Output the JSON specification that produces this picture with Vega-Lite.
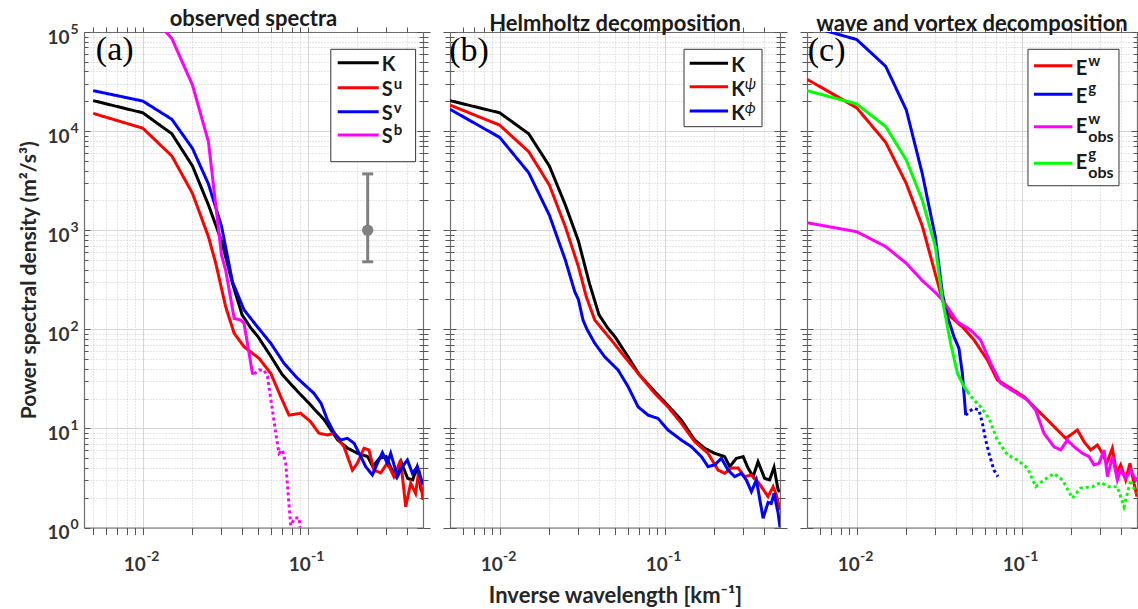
{
"padding":{"left":18,"top":8,"right":0,"bottom":0},
"background":"white",
"config":{"font":"Lato","view":{"stroke":null},"title":{"font":"Lato","fontWeight":"bold"},
 "axis":{"labelFont":"Lato","titleFont":"Lato","labelFontWeight":"bold","labelColor":"#333333","grid":false,"domain":false,"ticks":false,"labels":false,"tickColor":"#555555","tickWidth":1,"gridColor":"#d6d6d6","gridWidth":1,"domainColor":"#6e6e6e","domainWidth":1.2}},
"resolve":{"scale":{"color":"independent","strokeDash":"independent","x":"independent","y":"independent"}},
"bounds":"flush",
"spacing":27,
"datasets":{
"a":[
{"s":"K","k":0.005,"v":20300,"d":"solid"},{"s":"K","k":0.01,"v":15300,"d":"solid"},{"s":"K","k":0.015,"v":9400,"d":"solid"},{"s":"K","k":0.02,"v":4450,"d":"solid"},{"s":"K","k":0.025,"v":1800,"d":"solid"},{"s":"K","k":0.03,"v":780,"d":"solid"},{"s":"K","k":0.035,"v":290,"d":"solid"},{"s":"K","k":0.04,"v":140,"d":"solid"},{"s":"K","k":0.045,"v":104,"d":"solid"},{"s":"K","k":0.05,"v":84,"d":"solid"},{"s":"K","k":0.06,"v":52.8,"d":"solid"},{"s":"K","k":0.07,"v":35,"d":"solid"},{"s":"K","k":0.087,"v":23.5,"d":"solid"},{"s":"K","k":0.1,"v":18.5,"d":"solid"},{"s":"K","k":0.126,"v":12.2,"d":"solid"},{"s":"K","k":0.152,"v":7.64,"d":"solid"},{"s":"K","k":0.175,"v":6.3,"d":"solid"},{"s":"K","k":0.201,"v":5.6,"d":"solid"},{"s":"K","k":0.231,"v":5.19,"d":"solid"},{"s":"K","k":0.248,"v":4.11,"d":"solid"},{"s":"K","k":0.272,"v":4.99,"d":"solid"},{"s":"K","k":0.299,"v":5.19,"d":"solid"},{"s":"K","k":0.32,"v":3.98,"d":"solid"},{"s":"K","k":0.3435,"v":3.26,"d":"solid"},{"s":"K","k":0.368,"v":4.61,"d":"solid"},{"s":"K","k":0.4036,"v":3.13,"d":"solid"},{"s":"K","k":0.4326,"v":3.02,"d":"solid"},{"s":"K","k":0.46,"v":4.05,"d":"solid"},{"s":"K","k":0.487,"v":2.39,"d":"solid"},{"s":"K","k":0.5,"v":2.3,"d":"solid"},
{"s":"Su","k":0.005,"v":15100,"d":"solid"},{"s":"Su","k":0.01,"v":10700,"d":"solid"},{"s":"Su","k":0.015,"v":5610,"d":"solid"},{"s":"Su","k":0.02,"v":2355,"d":"solid"},{"s":"Su","k":0.025,"v":859,"d":"solid"},{"s":"Su","k":0.0277,"v":463,"d":"solid"},{"s":"Su","k":0.0318,"v":169,"d":"solid"},{"s":"Su","k":0.0358,"v":91.2,"d":"solid"},{"s":"Su","k":0.0411,"v":66.7,"d":"solid"},{"s":"Su","k":0.0507,"v":50.9,"d":"solid"},{"s":"Su","k":0.0597,"v":35.9,"d":"solid"},{"s":"Su","k":0.0686,"v":20.9,"d":"solid"},{"s":"Su","k":0.077,"v":13.6,"d":"solid"},{"s":"Su","k":0.0907,"v":14.2,"d":"solid"},{"s":"Su","k":0.104,"v":11.7,"d":"solid"},{"s":"Su","k":0.117,"v":8.93,"d":"solid"},{"s":"Su","k":0.1316,"v":8.58,"d":"solid"},{"s":"Su","k":0.145,"v":8.93,"d":"solid"},{"s":"Su","k":0.166,"v":6.53,"d":"solid"},{"s":"Su","k":0.1866,"v":3.8,"d":"solid"},{"s":"Su","k":0.2,"v":4.44,"d":"solid"},{"s":"Su","k":0.2194,"v":6.3,"d":"solid"},{"s":"Su","k":0.235,"v":6.06,"d":"solid"},{"s":"Su","k":0.2523,"v":3.8,"d":"solid"},{"s":"Su","k":0.277,"v":3.55,"d":"solid"},{"s":"Su","k":0.304,"v":4.48,"d":"solid"},{"s":"Su","k":0.333,"v":3.26,"d":"solid"},{"s":"Su","k":0.366,"v":4.8,"d":"solid"},{"s":"Su","k":0.3927,"v":1.62,"d":"solid"},{"s":"Su","k":0.421,"v":2.79,"d":"solid"},{"s":"Su","k":0.451,"v":2.21,"d":"solid"},{"s":"Su","k":0.4725,"v":3.8,"d":"solid"},{"s":"Su","k":0.5,"v":1.9,"d":"solid"},
{"s":"Sv","k":0.005,"v":25600,"d":"solid"},{"s":"Sv","k":0.01,"v":20100,"d":"solid"},{"s":"Sv","k":0.015,"v":13150,"d":"solid"},{"s":"Sv","k":0.02,"v":6700,"d":"solid"},{"s":"Sv","k":0.025,"v":2925,"d":"solid"},{"s":"Sv","k":0.03,"v":1100,"d":"solid"},{"s":"Sv","k":0.035,"v":300,"d":"solid"},{"s":"Sv","k":0.0411,"v":157,"d":"solid"},{"s":"Sv","k":0.0495,"v":106,"d":"solid"},{"s":"Sv","k":0.0597,"v":72.3,"d":"solid"},{"s":"Sv","k":0.0718,"v":45.4,"d":"solid"},{"s":"Sv","k":0.0866,"v":32.1,"d":"solid"},{"s":"Sv","k":0.109,"v":22.6,"d":"solid"},{"s":"Sv","k":0.1205,"v":17.9,"d":"solid"},{"s":"Sv","k":0.1316,"v":12.2,"d":"solid"},{"s":"Sv","k":0.145,"v":8.93,"d":"solid"},{"s":"Sv","k":0.1585,"v":7.64,"d":"solid"},{"s":"Sv","k":0.174,"v":7.94,"d":"solid"},{"s":"Sv","k":0.191,"v":7.08,"d":"solid"},{"s":"Sv","k":0.21,"v":5.19,"d":"solid"},{"s":"Sv","k":0.2246,"v":4.11,"d":"solid"},{"s":"Sv","k":0.2466,"v":3.39,"d":"solid"},{"s":"Sv","k":0.2645,"v":4.44,"d":"solid"},{"s":"Sv","k":0.2836,"v":5.69,"d":"solid"},{"s":"Sv","k":0.304,"v":4.44,"d":"solid"},{"s":"Sv","k":0.3185,"v":5.61,"d":"solid"},{"s":"Sv","k":0.3497,"v":3.26,"d":"solid"},{"s":"Sv","k":0.375,"v":4.11,"d":"solid"},{"s":"Sv","k":0.402,"v":4.8,"d":"solid"},{"s":"Sv","k":0.431,"v":3.52,"d":"solid"},{"s":"Sv","k":0.462,"v":4.11,"d":"solid"},{"s":"Sv","k":0.5,"v":2.7,"d":"solid"},
{"s":"Sb","k":0.01,"v":180000,"d":"solid"},{"s":"Sb","k":0.015,"v":86000,"d":"solid"},{"s":"Sb","k":0.02,"v":29200,"d":"solid"},{"s":"Sb","k":0.025,"v":7800,"d":"solid"},{"s":"Sb","k":0.03,"v":560,"d":"solid"},{"s":"Sb","k":0.0318,"v":396,"d":"solid"},{"s":"Sb","k":0.0358,"v":129,"d":"solid"},{"s":"Sb","k":0.0393,"v":124,"d":"solid"},{"s":"Sb","k":0.0411,"v":115,"d":"solid"},{"s":"Sb","k":0.0441,"v":57.3,"d":"solid"},{"s":"Sb","k":0.0462,"v":36,"d":"solid"},{"s":"Sb","k":0.0473,"v":35.5,"d":"solid"},
{"s":"Sb","k":0.0473,"v":35.5,"d":"dotted"},{"s":"Sb","k":0.0507,"v":38.8,"d":"dotted"},{"s":"Sb","k":0.0543,"v":38.8,"d":"dotted"},{"s":"Sb","k":0.057,"v":33.3,"d":"dotted"},{"s":"Sb","k":0.0611,"v":15.3,"d":"dotted"},{"s":"Sb","k":0.064,"v":8.9,"d":"dotted"},{"s":"Sb","k":0.067,"v":5.6,"d":"dotted"},{"s":"Sb","k":0.0702,"v":6.06,"d":"dotted"},{"s":"Sb","k":0.0736,"v":4.44,"d":"dotted"},{"s":"Sb","k":0.076,"v":2.21,"d":"dotted"},{"s":"Sb","k":0.0789,"v":1.05,"d":"dotted"},{"s":"Sb","k":0.0836,"v":1.25,"d":"dotted"},{"s":"Sb","k":0.0886,"v":1.25,"d":"dotted"},{"s":"Sb","k":0.092,"v":0.7,"d":"dotted"}
],
"b":[
{"s":"K","k":0.005,"v":20300,"d":"solid"},{"s":"K","k":0.01,"v":15300,"d":"solid"},{"s":"K","k":0.015,"v":9400,"d":"solid"},{"s":"K","k":0.02,"v":4450,"d":"solid"},{"s":"K","k":0.025,"v":1800,"d":"solid"},{"s":"K","k":0.03,"v":780,"d":"solid"},{"s":"K","k":0.035,"v":290,"d":"solid"},{"s":"K","k":0.04,"v":140,"d":"solid"},{"s":"K","k":0.045,"v":104,"d":"solid"},{"s":"K","k":0.05,"v":84,"d":"solid"},{"s":"K","k":0.06,"v":52.8,"d":"solid"},{"s":"K","k":0.07,"v":35,"d":"solid"},{"s":"K","k":0.087,"v":23.5,"d":"solid"},{"s":"K","k":0.1,"v":18.5,"d":"solid"},{"s":"K","k":0.126,"v":12.2,"d":"solid"},{"s":"K","k":0.152,"v":7.64,"d":"solid"},{"s":"K","k":0.175,"v":6.3,"d":"solid"},{"s":"K","k":0.201,"v":5.6,"d":"solid"},{"s":"K","k":0.231,"v":5.19,"d":"solid"},{"s":"K","k":0.248,"v":4.11,"d":"solid"},{"s":"K","k":0.272,"v":4.99,"d":"solid"},{"s":"K","k":0.299,"v":5.19,"d":"solid"},{"s":"K","k":0.32,"v":3.98,"d":"solid"},{"s":"K","k":0.3435,"v":3.26,"d":"solid"},{"s":"K","k":0.368,"v":4.61,"d":"solid"},{"s":"K","k":0.4036,"v":3.13,"d":"solid"},{"s":"K","k":0.4326,"v":3.02,"d":"solid"},{"s":"K","k":0.46,"v":4.05,"d":"solid"},{"s":"K","k":0.487,"v":2.39,"d":"solid"},{"s":"K","k":0.5,"v":2.3,"d":"solid"},
{"s":"Kpsi","k":0.005,"v":18300,"d":"solid"},{"s":"Kpsi","k":0.01,"v":11500,"d":"solid"},{"s":"Kpsi","k":0.015,"v":6200,"d":"solid"},{"s":"Kpsi","k":0.02,"v":2860,"d":"solid"},{"s":"Kpsi","k":0.025,"v":1085,"d":"solid"},{"s":"Kpsi","k":0.03,"v":430,"d":"solid"},{"s":"Kpsi","k":0.0335,"v":213,"d":"solid"},{"s":"Kpsi","k":0.0377,"v":124,"d":"solid"},{"s":"Kpsi","k":0.0423,"v":98.4,"d":"solid"},{"s":"Kpsi","k":0.0475,"v":78,"d":"solid"},{"s":"Kpsi","k":0.0572,"v":52.8,"d":"solid"},{"s":"Kpsi","k":0.069,"v":36,"d":"solid"},{"s":"Kpsi","k":0.087,"v":22.6,"d":"solid"},{"s":"Kpsi","k":0.1047,"v":16.5,"d":"solid"},{"s":"Kpsi","k":0.126,"v":11.3,"d":"solid"},{"s":"Kpsi","k":0.152,"v":7.35,"d":"solid"},{"s":"Kpsi","k":0.1832,"v":5.6,"d":"solid"},{"s":"Kpsi","k":0.2107,"v":3.8,"d":"solid"},{"s":"Kpsi","k":0.231,"v":3.52,"d":"solid"},{"s":"Kpsi","k":0.2536,"v":3.98,"d":"solid"},{"s":"Kpsi","k":0.2786,"v":3.98,"d":"solid"},{"s":"Kpsi","k":0.3053,"v":3.26,"d":"solid"},{"s":"Kpsi","k":0.3354,"v":3.39,"d":"solid"},{"s":"Kpsi","k":0.3595,"v":3.02,"d":"solid"},{"s":"Kpsi","k":0.3855,"v":2.58,"d":"solid"},{"s":"Kpsi","k":0.4234,"v":2.05,"d":"solid"},{"s":"Kpsi","k":0.454,"v":2.58,"d":"solid"},{"s":"Kpsi","k":0.4753,"v":2.13,"d":"solid"},{"s":"Kpsi","k":0.5,"v":1.5,"d":"solid"},
{"s":"Kphi","k":0.005,"v":16600,"d":"solid"},{"s":"Kphi","k":0.01,"v":8650,"d":"solid"},{"s":"Kphi","k":0.015,"v":3800,"d":"solid"},{"s":"Kphi","k":0.02,"v":1420,"d":"solid"},{"s":"Kphi","k":0.025,"v":500,"d":"solid"},{"s":"Kphi","k":0.0285,"v":240,"d":"solid"},{"s":"Kphi","k":0.03,"v":200,"d":"solid"},{"s":"Kphi","k":0.032,"v":124,"d":"solid"},{"s":"Kphi","k":0.0338,"v":100,"d":"solid"},{"s":"Kphi","k":0.0377,"v":72.3,"d":"solid"},{"s":"Kphi","k":0.0433,"v":52.8,"d":"solid"},{"s":"Kphi","k":0.0522,"v":38.8,"d":"solid"},{"s":"Kphi","k":0.06,"v":26.4,"d":"solid"},{"s":"Kphi","k":0.069,"v":16.5,"d":"solid"},{"s":"Kphi","k":0.0794,"v":13.6,"d":"solid"},{"s":"Kphi","k":0.0912,"v":12.6,"d":"solid"},{"s":"Kphi","k":0.1047,"v":9.64,"d":"solid"},{"s":"Kphi","k":0.126,"v":7.64,"d":"solid"},{"s":"Kphi","k":0.1452,"v":6.53,"d":"solid"},{"s":"Kphi","k":0.167,"v":5.19,"d":"solid"},{"s":"Kphi","k":0.1832,"v":4.11,"d":"solid"},{"s":"Kphi","k":0.201,"v":4.28,"d":"solid"},{"s":"Kphi","k":0.2207,"v":4.99,"d":"solid"},{"s":"Kphi","k":0.2422,"v":3.8,"d":"solid"},{"s":"Kphi","k":0.2656,"v":3.26,"d":"solid"},{"s":"Kphi","k":0.2916,"v":3.52,"d":"solid"},{"s":"Kphi","k":0.3126,"v":3.02,"d":"solid"},{"s":"Kphi","k":0.3354,"v":2.3,"d":"solid"},{"s":"Kphi","k":0.3595,"v":3.02,"d":"solid"},{"s":"Kphi","k":0.395,"v":1.24,"d":"solid"},{"s":"Kphi","k":0.4234,"v":1.79,"d":"solid"},{"s":"Kphi","k":0.443,"v":1.75,"d":"solid"},{"s":"Kphi","k":0.46,"v":2.21,"d":"solid"},{"s":"Kphi","k":0.487,"v":1.4,"d":"solid"},{"s":"Kphi","k":0.5,"v":1.0,"d":"solid"}
],
"c":[
{"s":"Ew","k":0.005,"v":33400,"d":"solid"},{"s":"Ew","k":0.01,"v":17200,"d":"solid"},{"s":"Ew","k":0.015,"v":7700,"d":"solid"},{"s":"Ew","k":0.02,"v":2950,"d":"solid"},{"s":"Ew","k":0.025,"v":1100,"d":"solid"},{"s":"Ew","k":0.03,"v":360,"d":"solid"},{"s":"Ew","k":0.0331,"v":198,"d":"solid"},{"s":"Ew","k":0.0371,"v":134,"d":"solid"},{"s":"Ew","k":0.0447,"v":102,"d":"solid"},{"s":"Ew","k":0.0514,"v":78,"d":"solid"},{"s":"Ew","k":0.062,"v":49,"d":"solid"},{"s":"Ew","k":0.0712,"v":30.8,"d":"solid"},{"s":"Ew","k":0.0858,"v":25.4,"d":"solid"},{"s":"Ew","k":0.1033,"v":20.9,"d":"solid"},{"s":"Ew","k":0.1245,"v":15.3,"d":"solid"},{"s":"Ew","k":0.1432,"v":12.2,"d":"solid"},{"s":"Ew","k":0.1646,"v":9.64,"d":"solid"},{"s":"Ew","k":0.1849,"v":7.94,"d":"solid"},{"s":"Ew","k":0.198,"v":8.58,"d":"solid"},{"s":"Ew","k":0.2176,"v":9.64,"d":"solid"},{"s":"Ew","k":0.2386,"v":7.35,"d":"solid"},{"s":"Ew","k":0.262,"v":6.06,"d":"solid"},{"s":"Ew","k":0.2876,"v":6.8,"d":"solid"},{"s":"Ew","k":0.3084,"v":5.6,"d":"solid"},{"s":"Ew","k":0.3274,"v":4.44,"d":"solid"},{"s":"Ew","k":0.3545,"v":6.3,"d":"solid"},{"s":"Ew","k":0.3765,"v":3.52,"d":"solid"},{"s":"Ew","k":0.398,"v":4.28,"d":"solid"},{"s":"Ew","k":0.4269,"v":3.02,"d":"solid"},{"s":"Ew","k":0.4533,"v":4.44,"d":"solid"},{"s":"Ew","k":0.4793,"v":2.79,"d":"solid"},{"s":"Ew","k":0.5,"v":2.05,"d":"solid"},
{"s":"Eg","k":0.005,"v":116000,"d":"solid"},{"s":"Eg","k":0.01,"v":84000,"d":"solid"},{"s":"Eg","k":0.015,"v":45000,"d":"solid"},{"s":"Eg","k":0.02,"v":16300,"d":"solid"},{"s":"Eg","k":0.025,"v":3700,"d":"solid"},{"s":"Eg","k":0.03,"v":850,"d":"solid"},{"s":"Eg","k":0.0331,"v":230,"d":"solid"},{"s":"Eg","k":0.0355,"v":134,"d":"solid"},{"s":"Eg","k":0.0389,"v":84,"d":"solid"},{"s":"Eg","k":0.0417,"v":64,"d":"solid"},{"s":"Eg","k":0.0437,"v":36,"d":"solid"},{"s":"Eg","k":0.0458,"v":13.6,"d":"solid"},
{"s":"Eg","k":0.0458,"v":13.6,"d":"dotted"},{"s":"Eg","k":0.0479,"v":14.8,"d":"dotted"},{"s":"Eg","k":0.0514,"v":16,"d":"dotted"},{"s":"Eg","k":0.0551,"v":15.3,"d":"dotted"},{"s":"Eg","k":0.0578,"v":11.3,"d":"dotted"},{"s":"Eg","k":0.0605,"v":7.64,"d":"dotted"},{"s":"Eg","k":0.0634,"v":5.6,"d":"dotted"},{"s":"Eg","k":0.0679,"v":3.8,"d":"dotted"},{"s":"Eg","k":0.0718,"v":3.26,"d":"dotted"},
{"s":"Ewobs","k":0.005,"v":1190,"d":"solid"},{"s":"Ewobs","k":0.01,"v":966,"d":"solid"},{"s":"Ewobs","k":0.015,"v":683,"d":"solid"},{"s":"Ewobs","k":0.02,"v":463,"d":"solid"},{"s":"Ewobs","k":0.025,"v":310,"d":"solid"},{"s":"Ewobs","k":0.03,"v":235,"d":"solid"},{"s":"Ewobs","k":0.0331,"v":198,"d":"solid"},{"s":"Ewobs","k":0.0408,"v":119,"d":"solid"},{"s":"Ewobs","k":0.0491,"v":98,"d":"solid"},{"s":"Ewobs","k":0.0564,"v":78,"d":"solid"},{"s":"Ewobs","k":0.0649,"v":45.4,"d":"solid"},{"s":"Ewobs","k":0.0746,"v":28.5,"d":"solid"},{"s":"Ewobs","k":0.0898,"v":23.5,"d":"solid"},{"s":"Ewobs","k":0.1083,"v":19.4,"d":"solid"},{"s":"Ewobs","k":0.1216,"v":15.3,"d":"solid"},{"s":"Ewobs","k":0.1365,"v":8.93,"d":"solid"},{"s":"Ewobs","k":0.157,"v":6.53,"d":"solid"},{"s":"Ewobs","k":0.1723,"v":6.06,"d":"solid"},{"s":"Ewobs","k":0.1892,"v":7.64,"d":"solid"},{"s":"Ewobs","k":0.2078,"v":6.53,"d":"solid"},{"s":"Ewobs","k":0.2336,"v":5.6,"d":"solid"},{"s":"Ewobs","k":0.2562,"v":5.19,"d":"solid"},{"s":"Ewobs","k":0.2746,"v":4.28,"d":"solid"},{"s":"Ewobs","k":0.2944,"v":4.44,"d":"solid"},{"s":"Ewobs","k":0.3157,"v":6.06,"d":"solid"},{"s":"Ewobs","k":0.3311,"v":3.26,"d":"solid"},{"s":"Ewobs","k":0.3549,"v":5.19,"d":"solid"},{"s":"Ewobs","k":0.38,"v":3.02,"d":"solid"},{"s":"Ewobs","k":0.398,"v":3.8,"d":"solid"},{"s":"Ewobs","k":0.4269,"v":3.13,"d":"solid"},{"s":"Ewobs","k":0.4579,"v":3.8,"d":"solid"},{"s":"Ewobs","k":0.491,"v":3.02,"d":"solid"},{"s":"Ewobs","k":0.5,"v":3.2,"d":"solid"},
{"s":"Egobs","k":0.005,"v":25600,"d":"solid"},{"s":"Egobs","k":0.01,"v":18800,"d":"solid"},{"s":"Egobs","k":0.015,"v":11100,"d":"solid"},{"s":"Egobs","k":0.02,"v":5100,"d":"solid"},{"s":"Egobs","k":0.025,"v":2000,"d":"solid"},{"s":"Egobs","k":0.03,"v":680,"d":"solid"},{"s":"Egobs","k":0.0331,"v":198,"d":"solid"},{"s":"Egobs","k":0.0371,"v":72,"d":"solid"},{"s":"Egobs","k":0.0408,"v":36,"d":"solid"},{"s":"Egobs","k":0.0447,"v":26.4,"d":"solid"},{"s":"Egobs","k":0.0469,"v":23.5,"d":"solid"},
{"s":"Egobs","k":0.0469,"v":23.5,"d":"dotted"},{"s":"Egobs","k":0.0503,"v":20.1,"d":"dotted"},{"s":"Egobs","k":0.0564,"v":16.5,"d":"dotted"},{"s":"Egobs","k":0.0634,"v":12.6,"d":"dotted"},{"s":"Egobs","k":0.0712,"v":7.64,"d":"dotted"},{"s":"Egobs","k":0.0819,"v":5.42,"d":"dotted"},{"s":"Egobs","k":0.0942,"v":4.8,"d":"dotted"},{"s":"Egobs","k":0.1083,"v":3.98,"d":"dotted"},{"s":"Egobs","k":0.1216,"v":2.58,"d":"dotted"},{"s":"Egobs","k":0.1365,"v":3.02,"d":"dotted"},{"s":"Egobs","k":0.157,"v":3.5,"d":"dotted"},{"s":"Egobs","k":0.1765,"v":3.02,"d":"dotted"},{"s":"Egobs","k":0.203,"v":1.98,"d":"dotted"},{"s":"Egobs","k":0.2278,"v":2.5,"d":"dotted"},{"s":"Egobs","k":0.2682,"v":2.58,"d":"dotted"},{"s":"Egobs","k":0.3011,"v":2.85,"d":"dotted"},{"s":"Egobs","k":0.3382,"v":2.58,"d":"dotted"},{"s":"Egobs","k":0.38,"v":2.58,"d":"dotted"},{"s":"Egobs","k":0.417,"v":1.62,"d":"dotted"},{"s":"Egobs","k":0.4579,"v":3.02,"d":"dotted"},{"s":"Egobs","k":0.491,"v":2.21,"d":"dotted"}
],
"err":[{"k":0.231,"v":1000,"lo":480,"hi":3700}]
},
"hconcat":[
{
"width":339,"height":495.5,
"title":{"text":"observed spectra","fontSize":22,"fontWeight":"bold","color":"#1a1a1a","offset":-9,"anchor":"middle","frame":"group"},
"resolve":{"axis":{"x":"independent","y":"independent"}},
"layer":[
{"data":{"name":"a"},"mark":{"type":"line","strokeWidth":3,"clip":true,"strokeCap":"butt"},
 "encoding":{
 "x":{"field":"k","type":"quantitative","scale":{"type":"log","domain":[0.0044,0.5],"nice":false},"axis":{"orient":"bottom","values":[0.01,0.1],"labels":true,"labelExpr":"'10'","labelFontSize":19,"labelPadding":36.5,"labelBaseline":"middle","labelOffset":-8.5,"title":null}},
 "y":{"field":"v","type":"quantitative","scale":{"type":"log","domain":[1,100000],"nice":false},"axis":{"orient":"left","values":[1,10,100,1000,10000,100000],"labels":true,"labelExpr":"'10'","labelFontSize":19,"labelAlign":"right","labelBaseline":"middle","labelPadding":15,"labelOffset":5,"title":"Power spectral density (m²/s³)","titleFontSize":21,"titleFontWeight":"bold","titleColor":"#262626","titlePadding":7}},
 "color":{"field":"s","type":"nominal","scale":{"domain":["K","Su","Sv","Sb"],"range":["#000000","#ff0000","#0000ff","#ff00ff"]},"legend":null},
 "strokeDash":{"field":"d","type":"nominal","scale":{"domain":["solid","dotted"],"range":[[1,0],[3,3]]},"legend":null}}},
{"data":{"name":"a"},"mark":{"type":"point","opacity":0,"clip":true},"encoding":{
 "x":{"field":"k","type":"quantitative","scale":{"type":"log","domain":[0.0044,0.5],"nice":false},"axis":{"orient":"bottom","values":[0.01,0.1],"labels":true,"labelExpr":"''+round(log(datum.value)/LN10)","labelFontSize":14,"labelPadding":29,"labelBaseline":"middle","labelOffset":9.5,"title":null}},
 "y":{"field":"v","type":"quantitative","scale":{"type":"log","domain":[1,100000],"nice":false},"axis":{"orient":"left","values":[1,10,100,1000,10000,100000],"labels":true,"labelExpr":"''+round(log(datum.value)/LN10)","labelFontSize":14,"labelAlign":"right","labelBaseline":"middle","labelPadding":6,"labelOffset":-3,"title":null}}}},
{"data":{"name":"a"},"mark":{"type":"point","opacity":0,"clip":true},"encoding":{
 "x":{"field":"k","type":"quantitative","scale":{"type":"log","domain":[0.0044,0.5],"nice":false},"axis":{"orient":"bottom","values":[0.01,0.1],"ticks":true,"tickSize":7,"grid":true,"domain":true,"title":null}},
 "y":{"field":"v","type":"quantitative","scale":{"type":"log","domain":[1,100000],"nice":false},"axis":{"orient":"left","values":[1,10,100,1000,10000,100000],"ticks":true,"tickSize":-6,"grid":true,"domain":true,"title":null}}}},
{"data":{"name":"a"},"mark":{"type":"point","opacity":0,"clip":true},"encoding":{
 "x":{"field":"k","type":"quantitative","scale":{"type":"log","domain":[0.0044,0.5],"nice":false},"axis":{"orient":"bottom","values":[0.005,0.006,0.007,0.008,0.009,0.02,0.03,0.04,0.05,0.06,0.07,0.08,0.09,0.2,0.3,0.4],"ticks":true,"tickSize":7,"grid":true,"gridDash":[1,2],"gridColor":"#cccccc","title":null}},
 "y":{"field":"v","type":"quantitative","scale":{"type":"log","domain":[1,100000],"nice":false},"axis":{"orient":"left","values":[2,3,4,5,6,7,8,9,20,30,40,50,60,70,80,90,200,300,400,500,600,700,800,900,2000,3000,4000,5000,6000,7000,8000,9000,20000,30000,40000,50000,60000,70000,80000,90000],"ticks":true,"tickSize":-4,"grid":true,"gridDash":[1,2],"gridColor":"#cccccc","title":null}}}},
{"data":{"name":"a"},"mark":{"type":"point","opacity":0,"clip":true},"encoding":{
 "x":{"field":"k","type":"quantitative","scale":{"type":"log","domain":[0.0044,0.5],"nice":false},"axis":{"orient":"top","values":[0.01,0.1],"ticks":true,"tickSize":5,"domain":true,"title":null}},
 "y":{"field":"v","type":"quantitative","scale":{"type":"log","domain":[1,100000],"nice":false},"axis":{"orient":"right","values":[1,10,100,1000,10000,100000],"ticks":true,"tickSize":7,"domain":true,"title":null}}}},
{"data":{"name":"a"},"mark":{"type":"point","opacity":0,"clip":true},"encoding":{
 "x":{"field":"k","type":"quantitative","scale":{"type":"log","domain":[0.0044,0.5],"nice":false},"axis":{"orient":"top","values":[0.005,0.006,0.007,0.008,0.009,0.02,0.03,0.04,0.05,0.06,0.07,0.08,0.09,0.2,0.3,0.4],"ticks":true,"tickSize":5,"title":null}},
 "y":{"field":"v","type":"quantitative","scale":{"type":"log","domain":[1,100000],"nice":false},"axis":{"orient":"right","values":[2,3,4,5,6,7,8,9,20,30,40,50,60,70,80,90,200,300,400,500,600,700,800,900,2000,3000,4000,5000,6000,7000,8000,9000,20000,30000,40000,50000,60000,70000,80000,90000],"ticks":true,"tickSize":5,"title":null}}}},
{"data":{"name":"a"},"mark":{"type":"point","opacity":0,"clip":true},"encoding":{
 "x":{"field":"k","type":"quantitative","scale":{"type":"log","domain":[0.0044,0.5],"nice":false},"axis":null},
 "y":{"field":"v","type":"quantitative","scale":{"type":"log","domain":[1,100000],"nice":false},"axis":{"orient":"right","values":[1,10,100,1000,10000,100000],"ticks":true,"tickSize":-6,"title":null}}}},
{"data":{"name":"a"},"mark":{"type":"point","opacity":0,"clip":true},"encoding":{
 "x":{"field":"k","type":"quantitative","scale":{"type":"log","domain":[0.0044,0.5],"nice":false},"axis":null},
 "y":{"field":"v","type":"quantitative","scale":{"type":"log","domain":[1,100000],"nice":false},"axis":{"orient":"right","values":[2,3,4,5,6,7,8,9,20,30,40,50,60,70,80,90,200,300,400,500,600,700,800,900,2000,3000,4000,5000,6000,7000,8000,9000,20000,30000,40000,50000,60000,70000,80000,90000],"ticks":true,"tickSize":-4,"title":null}}}},
{"data":{"name":"err"},"mark":{"type":"rule","strokeWidth":3,"color":"#808080"},"encoding":{
 "x":{"field":"k","type":"quantitative","scale":{"type":"log","domain":[0.0044,0.5],"nice":false},"axis":null},
 "y":{"field":"lo","type":"quantitative","scale":{"type":"log","domain":[1,100000],"nice":false},"axis":null},"y2":{"field":"hi"}}},
{"data":{"name":"err"},"mark":{"type":"tick","orient":"horizontal","size":11,"thickness":3,"color":"#808080","opacity":1},"encoding":{
 "x":{"field":"k","type":"quantitative","scale":{"type":"log","domain":[0.0044,0.5],"nice":false},"axis":null},
 "y":{"field":"lo","type":"quantitative","scale":{"type":"log","domain":[1,100000],"nice":false},"axis":null}}},
{"data":{"name":"err"},"mark":{"type":"tick","orient":"horizontal","size":11,"thickness":3,"color":"#808080","opacity":1},"encoding":{
 "x":{"field":"k","type":"quantitative","scale":{"type":"log","domain":[0.0044,0.5],"nice":false},"axis":null},
 "y":{"field":"hi","type":"quantitative","scale":{"type":"log","domain":[1,100000],"nice":false},"axis":null}}},
{"data":{"name":"err"},"mark":{"type":"point","filled":true,"size":130,"color":"#808080","opacity":1},"encoding":{
 "x":{"field":"k","type":"quantitative","scale":{"type":"log","domain":[0.0044,0.5],"nice":false},"axis":null},
 "y":{"field":"v","type":"quantitative","scale":{"type":"log","domain":[1,100000],"nice":false},"axis":null}}},
{"data":{"values":[{}]},"mark":{"type":"rect","fill":"white","stroke":"#333333","strokeWidth":1},"encoding":{"x":{"datum":0.138,"type":"quantitative","scale":{"type":"log","domain":[0.0044,0.5],"nice":false},"axis":null},"x2":{"datum":0.451},"y":{"datum":66900,"type":"quantitative","scale":{"type":"log","domain":[1,100000],"nice":false},"axis":null},"y2":{"datum":4910}}},
{"data":{"values":[{}]},"mark":{"type":"rule","strokeWidth":3,"color":"#000000"},"encoding":{"x":{"datum":0.152,"type":"quantitative","scale":{"type":"log","domain":[0.0044,0.5],"nice":false},"axis":null},"x2":{"datum":0.2694},"y":{"datum":48900,"type":"quantitative","scale":{"type":"log","domain":[1,100000],"nice":false},"axis":null}}},
{"data":{"values":[{}]},"mark":{"type":"rule","strokeWidth":3,"color":"#ff0000"},"encoding":{"x":{"datum":0.152,"type":"quantitative","scale":{"type":"log","domain":[0.0044,0.5],"nice":false},"axis":null},"x2":{"datum":0.2694},"y":{"datum":27400,"type":"quantitative","scale":{"type":"log","domain":[1,100000],"nice":false},"axis":null}}},
{"data":{"values":[{}]},"mark":{"type":"rule","strokeWidth":3,"color":"#0000ff"},"encoding":{"x":{"datum":0.152,"type":"quantitative","scale":{"type":"log","domain":[0.0044,0.5],"nice":false},"axis":null},"x2":{"datum":0.2694},"y":{"datum":15700,"type":"quantitative","scale":{"type":"log","domain":[1,100000],"nice":false},"axis":null}}},
{"data":{"values":[{}]},"mark":{"type":"rule","strokeWidth":3,"color":"#ff00ff"},"encoding":{"x":{"datum":0.152,"type":"quantitative","scale":{"type":"log","domain":[0.0044,0.5],"nice":false},"axis":null},"x2":{"datum":0.2694},"y":{"datum":9140,"type":"quantitative","scale":{"type":"log","domain":[1,100000],"nice":false},"axis":null}}},
{"data":{"values":[{}]},"mark":{"type":"text","text":"K","align":"left","baseline":"middle","dy":2.5,"fontSize":20,"fontWeight":"bold","color":"#1a1a1a"},"encoding":{"x":{"datum":0.281,"type":"quantitative","scale":{"type":"log","domain":[0.0044,0.5],"nice":false},"axis":null},"y":{"datum":48900,"type":"quantitative","scale":{"type":"log","domain":[1,100000],"nice":false},"axis":null}}},
{"data":{"values":[{}]},"mark":{"type":"text","text":"S","align":"left","baseline":"middle","dy":2.5,"fontSize":20,"fontWeight":"bold","color":"#1a1a1a"},"encoding":{"x":{"datum":0.281,"type":"quantitative","scale":{"type":"log","domain":[0.0044,0.5],"nice":false},"axis":null},"y":{"datum":27400,"type":"quantitative","scale":{"type":"log","domain":[1,100000],"nice":false},"axis":null}}},
{"data":{"values":[{}]},"mark":{"type":"text","text":"S","align":"left","baseline":"middle","dy":2.5,"fontSize":20,"fontWeight":"bold","color":"#1a1a1a"},"encoding":{"x":{"datum":0.281,"type":"quantitative","scale":{"type":"log","domain":[0.0044,0.5],"nice":false},"axis":null},"y":{"datum":15700,"type":"quantitative","scale":{"type":"log","domain":[1,100000],"nice":false},"axis":null}}},
{"data":{"values":[{}]},"mark":{"type":"text","text":"S","align":"left","baseline":"middle","dy":2.5,"fontSize":20,"fontWeight":"bold","color":"#1a1a1a"},"encoding":{"x":{"datum":0.281,"type":"quantitative","scale":{"type":"log","domain":[0.0044,0.5],"nice":false},"axis":null},"y":{"datum":9140,"type":"quantitative","scale":{"type":"log","domain":[1,100000],"nice":false},"axis":null}}},
{"data":{"values":[{}]},"mark":{"type":"text","text":"u","align":"left","baseline":"middle","dx":12,"dy":-3.5,"fontSize":15,"fontWeight":"bold","color":"#1a1a1a"},"encoding":{"x":{"datum":0.281,"type":"quantitative","scale":{"type":"log","domain":[0.0044,0.5],"nice":false},"axis":null},"y":{"datum":27400,"type":"quantitative","scale":{"type":"log","domain":[1,100000],"nice":false},"axis":null}}},
{"data":{"values":[{}]},"mark":{"type":"text","text":"v","align":"left","baseline":"middle","dx":12,"dy":-3.5,"fontSize":15,"fontWeight":"bold","color":"#1a1a1a"},"encoding":{"x":{"datum":0.281,"type":"quantitative","scale":{"type":"log","domain":[0.0044,0.5],"nice":false},"axis":null},"y":{"datum":15700,"type":"quantitative","scale":{"type":"log","domain":[1,100000],"nice":false},"axis":null}}},
{"data":{"values":[{}]},"mark":{"type":"text","text":"b","align":"left","baseline":"middle","dx":12,"dy":-4.5,"fontSize":15,"fontWeight":"bold","color":"#1a1a1a"},"encoding":{"x":{"datum":0.281,"type":"quantitative","scale":{"type":"log","domain":[0.0044,0.5],"nice":false},"axis":null},"y":{"datum":9140,"type":"quantitative","scale":{"type":"log","domain":[1,100000],"nice":false},"axis":null}}},
{"data":{"values":[{}]},"mark":{"type":"text","text":"(a)","align":"left","baseline":"alphabetic","font":"Liberation Serif","fontSize":34,"color":"#000000"},"encoding":{"x":{"datum":0.00519,"type":"quantitative","scale":{"type":"log","domain":[0.0044,0.5],"nice":false},"axis":null},"y":{"datum":52200,"type":"quantitative","scale":{"type":"log","domain":[1,100000],"nice":false},"axis":null}}}
]
},
{
"width":330,"height":495.5,
"title":{"text":"Helmholtz decomposition","fontSize":22,"fontWeight":"bold","color":"#1a1a1a","offset":-9,"anchor":"middle","frame":"group"},
"resolve":{"axis":{"x":"independent","y":"independent"}},
"layer":[
{"data":{"name":"b"},"mark":{"type":"line","strokeWidth":3,"clip":true,"strokeCap":"butt"},
 "encoding":{
 "x":{"field":"k","type":"quantitative","scale":{"type":"log","domain":[0.005,0.5],"nice":false},"axis":{"orient":"bottom","values":[0.01,0.1],"labels":true,"labelExpr":"'10'","labelFontSize":19,"labelPadding":36.5,"labelBaseline":"middle","labelOffset":-8.5,"title":"Inverse wavelength [km⁻¹]","titleFontSize":22,"titleFontWeight":"bold","titleColor":"#262626","titlePadding":11}},
 "y":{"field":"v","type":"quantitative","scale":{"type":"log","domain":[1,100000],"nice":false},"axis":{"orient":"left","values":[1,10,100,1000,10000,100000],"ticks":true,"tickSize":7,"title":null}},
 "color":{"field":"s","type":"nominal","scale":{"domain":["K","Kpsi","Kphi"],"range":["#000000","#ff0000","#0000ff"]},"legend":null},
 "strokeDash":{"field":"d","type":"nominal","scale":{"domain":["solid","dotted"],"range":[[1,0],[3,3]]},"legend":null}}},
{"data":{"name":"b"},"mark":{"type":"point","opacity":0,"clip":true},"encoding":{
 "x":{"field":"k","type":"quantitative","scale":{"type":"log","domain":[0.005,0.5],"nice":false},"axis":{"orient":"bottom","values":[0.01,0.1],"labels":true,"labelExpr":"''+round(log(datum.value)/LN10)","labelFontSize":14,"labelPadding":29,"labelBaseline":"middle","labelOffset":9.5,"title":null}},
 "y":{"field":"v","type":"quantitative","scale":{"type":"log","domain":[1,100000],"nice":false},"axis":{"orient":"left","values":[2,3,4,5,6,7,8,9,20,30,40,50,60,70,80,90,200,300,400,500,600,700,800,900,2000,3000,4000,5000,6000,7000,8000,9000,20000,30000,40000,50000,60000,70000,80000,90000],"ticks":true,"tickSize":5,"title":null}}}},
{"data":{"name":"b"},"mark":{"type":"point","opacity":0,"clip":true},"encoding":{
 "x":{"field":"k","type":"quantitative","scale":{"type":"log","domain":[0.005,0.5],"nice":false},"axis":{"orient":"bottom","values":[0.01,0.1],"ticks":true,"tickSize":7,"grid":true,"domain":true,"title":null}},
 "y":{"field":"v","type":"quantitative","scale":{"type":"log","domain":[1,100000],"nice":false},"axis":{"orient":"left","values":[1,10,100,1000,10000,100000],"ticks":true,"tickSize":-6,"grid":true,"domain":true,"title":null}}}},
{"data":{"name":"b"},"mark":{"type":"point","opacity":0,"clip":true},"encoding":{
 "x":{"field":"k","type":"quantitative","scale":{"type":"log","domain":[0.005,0.5],"nice":false},"axis":{"orient":"bottom","values":[0.006,0.007,0.008,0.009,0.02,0.03,0.04,0.05,0.06,0.07,0.08,0.09,0.2,0.3,0.4],"ticks":true,"tickSize":7,"grid":true,"gridDash":[1,2],"gridColor":"#cccccc","title":null}},
 "y":{"field":"v","type":"quantitative","scale":{"type":"log","domain":[1,100000],"nice":false},"axis":{"orient":"left","values":[2,3,4,5,6,7,8,9,20,30,40,50,60,70,80,90,200,300,400,500,600,700,800,900,2000,3000,4000,5000,6000,7000,8000,9000,20000,30000,40000,50000,60000,70000,80000,90000],"ticks":true,"tickSize":-4,"grid":true,"gridDash":[1,2],"gridColor":"#cccccc","title":null}}}},
{"data":{"name":"b"},"mark":{"type":"point","opacity":0,"clip":true},"encoding":{
 "x":{"field":"k","type":"quantitative","scale":{"type":"log","domain":[0.005,0.5],"nice":false},"axis":{"orient":"top","values":[0.01,0.1],"ticks":true,"tickSize":5,"domain":true,"title":null}},
 "y":{"field":"v","type":"quantitative","scale":{"type":"log","domain":[1,100000],"nice":false},"axis":{"orient":"right","values":[1,10,100,1000,10000,100000],"ticks":true,"tickSize":7,"domain":true,"title":null}}}},
{"data":{"name":"b"},"mark":{"type":"point","opacity":0,"clip":true},"encoding":{
 "x":{"field":"k","type":"quantitative","scale":{"type":"log","domain":[0.005,0.5],"nice":false},"axis":{"orient":"top","values":[0.006,0.007,0.008,0.009,0.02,0.03,0.04,0.05,0.06,0.07,0.08,0.09,0.2,0.3,0.4],"ticks":true,"tickSize":5,"title":null}},
 "y":{"field":"v","type":"quantitative","scale":{"type":"log","domain":[1,100000],"nice":false},"axis":{"orient":"right","values":[2,3,4,5,6,7,8,9,20,30,40,50,60,70,80,90,200,300,400,500,600,700,800,900,2000,3000,4000,5000,6000,7000,8000,9000,20000,30000,40000,50000,60000,70000,80000,90000],"ticks":true,"tickSize":5,"title":null}}}},
{"data":{"name":"b"},"mark":{"type":"point","opacity":0,"clip":true},"encoding":{
 "x":{"field":"k","type":"quantitative","scale":{"type":"log","domain":[0.005,0.5],"nice":false},"axis":null},
 "y":{"field":"v","type":"quantitative","scale":{"type":"log","domain":[1,100000],"nice":false},"axis":{"orient":"right","values":[1,10,100,1000,10000,100000],"ticks":true,"tickSize":-6,"title":null}}}},
{"data":{"name":"b"},"mark":{"type":"point","opacity":0,"clip":true},"encoding":{
 "x":{"field":"k","type":"quantitative","scale":{"type":"log","domain":[0.005,0.5],"nice":false},"axis":null},
 "y":{"field":"v","type":"quantitative","scale":{"type":"log","domain":[1,100000],"nice":false},"axis":{"orient":"right","values":[2,3,4,5,6,7,8,9,20,30,40,50,60,70,80,90,200,300,400,500,600,700,800,900,2000,3000,4000,5000,6000,7000,8000,9000,20000,30000,40000,50000,60000,70000,80000,90000],"ticks":true,"tickSize":-4,"title":null}}}},
{"data":{"values":[{}]},"mark":{"type":"rect","fill":"white","stroke":"#333333","strokeWidth":1},"encoding":{"x":{"datum":0.131,"type":"quantitative","scale":{"type":"log","domain":[0.005,0.5],"nice":false},"axis":null},"x2":{"datum":0.389},"y":{"datum":66900,"type":"quantitative","scale":{"type":"log","domain":[1,100000],"nice":false},"axis":null},"y2":{"datum":11080}}},
{"data":{"values":[{}]},"mark":{"type":"rule","strokeWidth":3,"color":"#000000"},"encoding":{"x":{"datum":0.1418,"type":"quantitative","scale":{"type":"log","domain":[0.005,0.5],"nice":false},"axis":null},"x2":{"datum":0.2422},"y":{"datum":48300,"type":"quantitative","scale":{"type":"log","domain":[1,100000],"nice":false},"axis":null}}},
{"data":{"values":[{}]},"mark":{"type":"rule","strokeWidth":3,"color":"#ff0000"},"encoding":{"x":{"datum":0.1418,"type":"quantitative","scale":{"type":"log","domain":[0.005,0.5],"nice":false},"axis":null},"x2":{"datum":0.2422},"y":{"datum":28000,"type":"quantitative","scale":{"type":"log","domain":[1,100000],"nice":false},"axis":null}}},
{"data":{"values":[{}]},"mark":{"type":"rule","strokeWidth":3,"color":"#0000ff"},"encoding":{"x":{"datum":0.1418,"type":"quantitative","scale":{"type":"log","domain":[0.005,0.5],"nice":false},"axis":null},"x2":{"datum":0.2422},"y":{"datum":15960,"type":"quantitative","scale":{"type":"log","domain":[1,100000],"nice":false},"axis":null}}},
{"data":{"values":[{}]},"mark":{"type":"text","text":"K","align":"left","baseline":"middle","dy":2.5,"fontSize":20,"fontWeight":"bold","color":"#1a1a1a"},"encoding":{"x":{"datum":0.2536,"type":"quantitative","scale":{"type":"log","domain":[0.005,0.5],"nice":false},"axis":null},"y":{"datum":48300,"type":"quantitative","scale":{"type":"log","domain":[1,100000],"nice":false},"axis":null}}},
{"data":{"values":[{}]},"mark":{"type":"text","text":"K","align":"left","baseline":"middle","dy":3.5,"fontSize":20,"fontWeight":"bold","color":"#1a1a1a"},"encoding":{"x":{"datum":0.2536,"type":"quantitative","scale":{"type":"log","domain":[0.005,0.5],"nice":false},"axis":null},"y":{"datum":28000,"type":"quantitative","scale":{"type":"log","domain":[1,100000],"nice":false},"axis":null}}},
{"data":{"values":[{}]},"mark":{"type":"text","text":"K","align":"left","baseline":"middle","dy":3.5,"fontSize":20,"fontWeight":"bold","color":"#1a1a1a"},"encoding":{"x":{"datum":0.2536,"type":"quantitative","scale":{"type":"log","domain":[0.005,0.5],"nice":false},"axis":null},"y":{"datum":15960,"type":"quantitative","scale":{"type":"log","domain":[1,100000],"nice":false},"axis":null}}},
{"data":{"values":[{}]},"mark":{"type":"text","text":"ψ","align":"left","baseline":"middle","dx":13.5,"dy":-3,"fontSize":16,"fontStyle":"italic","color":"#1a1a1a"},"encoding":{"x":{"datum":0.2536,"type":"quantitative","scale":{"type":"log","domain":[0.005,0.5],"nice":false},"axis":null},"y":{"datum":28000,"type":"quantitative","scale":{"type":"log","domain":[1,100000],"nice":false},"axis":null}}},
{"data":{"values":[{}]},"mark":{"type":"text","text":"ϕ","align":"left","baseline":"middle","dx":13.5,"dy":-3,"fontSize":16,"fontStyle":"italic","color":"#1a1a1a"},"encoding":{"x":{"datum":0.2536,"type":"quantitative","scale":{"type":"log","domain":[0.005,0.5],"nice":false},"axis":null},"y":{"datum":15960,"type":"quantitative","scale":{"type":"log","domain":[1,100000],"nice":false},"axis":null}}},
{"data":{"values":[{}]},"mark":{"type":"text","text":"(b)","align":"left","baseline":"alphabetic","font":"Liberation Serif","fontSize":34,"color":"#000000"},"encoding":{"x":{"datum":0.00495,"type":"quantitative","scale":{"type":"log","domain":[0.005,0.5],"nice":false},"axis":null},"y":{"datum":51000,"type":"quantitative","scale":{"type":"log","domain":[1,100000],"nice":false},"axis":null}}}
]
},
{
"width":330,"height":495.5,
"title":{"text":"wave and vortex decomposition","fontSize":22,"fontWeight":"bold","color":"#1a1a1a","offset":-9,"anchor":"middle","frame":"group"},
"resolve":{"axis":{"x":"independent","y":"independent"}},
"layer":[
{"data":{"name":"c"},"mark":{"type":"line","strokeWidth":3,"clip":true,"strokeCap":"butt"},
 "encoding":{
 "x":{"field":"k","type":"quantitative","scale":{"type":"log","domain":[0.005,0.5],"nice":false},"axis":{"orient":"bottom","values":[0.01,0.1],"labels":true,"labelExpr":"'10'","labelFontSize":19,"labelPadding":36.5,"labelBaseline":"middle","labelOffset":-8.5,"title":null}},
 "y":{"field":"v","type":"quantitative","scale":{"type":"log","domain":[1,100000],"nice":false},"axis":{"orient":"left","values":[1,10,100,1000,10000,100000],"ticks":true,"tickSize":7,"title":null}},
 "color":{"field":"s","type":"nominal","scale":{"domain":["Ew","Eg","Ewobs","Egobs"],"range":["#ff0000","#0000ff","#ff00ff","#00ff00"]},"legend":null},
 "strokeDash":{"field":"d","type":"nominal","scale":{"domain":["solid","dotted"],"range":[[1,0],[3,3]]},"legend":null}}},
{"data":{"name":"c"},"mark":{"type":"point","opacity":0,"clip":true},"encoding":{
 "x":{"field":"k","type":"quantitative","scale":{"type":"log","domain":[0.005,0.5],"nice":false},"axis":{"orient":"bottom","values":[0.01,0.1],"labels":true,"labelExpr":"''+round(log(datum.value)/LN10)","labelFontSize":14,"labelPadding":29,"labelBaseline":"middle","labelOffset":9.5,"title":null}},
 "y":{"field":"v","type":"quantitative","scale":{"type":"log","domain":[1,100000],"nice":false},"axis":{"orient":"left","values":[2,3,4,5,6,7,8,9,20,30,40,50,60,70,80,90,200,300,400,500,600,700,800,900,2000,3000,4000,5000,6000,7000,8000,9000,20000,30000,40000,50000,60000,70000,80000,90000],"ticks":true,"tickSize":5,"title":null}}}},
{"data":{"name":"c"},"mark":{"type":"point","opacity":0,"clip":true},"encoding":{
 "x":{"field":"k","type":"quantitative","scale":{"type":"log","domain":[0.005,0.5],"nice":false},"axis":{"orient":"bottom","values":[0.01,0.1],"ticks":true,"tickSize":7,"grid":true,"domain":true,"title":null}},
 "y":{"field":"v","type":"quantitative","scale":{"type":"log","domain":[1,100000],"nice":false},"axis":{"orient":"left","values":[1,10,100,1000,10000,100000],"ticks":true,"tickSize":-6,"grid":true,"domain":true,"title":null}}}},
{"data":{"name":"c"},"mark":{"type":"point","opacity":0,"clip":true},"encoding":{
 "x":{"field":"k","type":"quantitative","scale":{"type":"log","domain":[0.005,0.5],"nice":false},"axis":{"orient":"bottom","values":[0.006,0.007,0.008,0.009,0.02,0.03,0.04,0.05,0.06,0.07,0.08,0.09,0.2,0.3,0.4],"ticks":true,"tickSize":7,"grid":true,"gridDash":[1,2],"gridColor":"#cccccc","title":null}},
 "y":{"field":"v","type":"quantitative","scale":{"type":"log","domain":[1,100000],"nice":false},"axis":{"orient":"left","values":[2,3,4,5,6,7,8,9,20,30,40,50,60,70,80,90,200,300,400,500,600,700,800,900,2000,3000,4000,5000,6000,7000,8000,9000,20000,30000,40000,50000,60000,70000,80000,90000],"ticks":true,"tickSize":-4,"grid":true,"gridDash":[1,2],"gridColor":"#cccccc","title":null}}}},
{"data":{"name":"c"},"mark":{"type":"point","opacity":0,"clip":true},"encoding":{
 "x":{"field":"k","type":"quantitative","scale":{"type":"log","domain":[0.005,0.5],"nice":false},"axis":{"orient":"top","values":[0.01,0.1],"ticks":true,"tickSize":5,"domain":true,"title":null}},
 "y":{"field":"v","type":"quantitative","scale":{"type":"log","domain":[1,100000],"nice":false},"axis":{"orient":"right","values":[1,10,100,1000,10000,100000],"ticks":true,"tickSize":7,"domain":true,"title":null}}}},
{"data":{"name":"c"},"mark":{"type":"point","opacity":0,"clip":true},"encoding":{
 "x":{"field":"k","type":"quantitative","scale":{"type":"log","domain":[0.005,0.5],"nice":false},"axis":{"orient":"top","values":[0.006,0.007,0.008,0.009,0.02,0.03,0.04,0.05,0.06,0.07,0.08,0.09,0.2,0.3,0.4],"ticks":true,"tickSize":5,"title":null}},
 "y":{"field":"v","type":"quantitative","scale":{"type":"log","domain":[1,100000],"nice":false},"axis":{"orient":"right","values":[2,3,4,5,6,7,8,9,20,30,40,50,60,70,80,90,200,300,400,500,600,700,800,900,2000,3000,4000,5000,6000,7000,8000,9000,20000,30000,40000,50000,60000,70000,80000,90000],"ticks":true,"tickSize":5,"title":null}}}},
{"data":{"name":"c"},"mark":{"type":"point","opacity":0,"clip":true},"encoding":{
 "x":{"field":"k","type":"quantitative","scale":{"type":"log","domain":[0.005,0.5],"nice":false},"axis":null},
 "y":{"field":"v","type":"quantitative","scale":{"type":"log","domain":[1,100000],"nice":false},"axis":{"orient":"right","values":[1,10,100,1000,10000,100000],"ticks":true,"tickSize":-6,"title":null}}}},
{"data":{"name":"c"},"mark":{"type":"point","opacity":0,"clip":true},"encoding":{
 "x":{"field":"k","type":"quantitative","scale":{"type":"log","domain":[0.005,0.5],"nice":false},"axis":null},
 "y":{"field":"v","type":"quantitative","scale":{"type":"log","domain":[1,100000],"nice":false},"axis":{"orient":"right","values":[2,3,4,5,6,7,8,9,20,30,40,50,60,70,80,90,200,300,400,500,600,700,800,900,2000,3000,4000,5000,6000,7000,8000,9000,20000,30000,40000,50000,60000,70000,80000,90000],"ticks":true,"tickSize":-4,"title":null}}}},
{"data":{"values":[{}]},"mark":{"type":"rect","fill":"white","stroke":"#333333","strokeWidth":1},"encoding":{"x":{"datum":0.1092,"type":"quantitative","scale":{"type":"log","domain":[0.005,0.5],"nice":false},"axis":null},"x2":{"datum":0.3888},"y":{"datum":66900,"type":"quantitative","scale":{"type":"log","domain":[1,100000],"nice":false},"axis":null},"y2":{"datum":2810}}},
{"data":{"values":[{}]},"mark":{"type":"rule","strokeWidth":3,"color":"#ff0000"},"encoding":{"x":{"datum":0.1187,"type":"quantitative","scale":{"type":"log","domain":[0.005,0.5],"nice":false},"axis":null},"x2":{"datum":0.203},"y":{"datum":45700,"type":"quantitative","scale":{"type":"log","domain":[1,100000],"nice":false},"axis":null}}},
{"data":{"values":[{}]},"mark":{"type":"rule","strokeWidth":3,"color":"#0000ff"},"encoding":{"x":{"datum":0.1187,"type":"quantitative","scale":{"type":"log","domain":[0.005,0.5],"nice":false},"axis":null},"x2":{"datum":0.203},"y":{"datum":23500,"type":"quantitative","scale":{"type":"log","domain":[1,100000],"nice":false},"axis":null}}},
{"data":{"values":[{}]},"mark":{"type":"rule","strokeWidth":3,"color":"#ff00ff"},"encoding":{"x":{"datum":0.1187,"type":"quantitative","scale":{"type":"log","domain":[0.005,0.5],"nice":false},"axis":null},"x2":{"datum":0.203},"y":{"datum":11080,"type":"quantitative","scale":{"type":"log","domain":[1,100000],"nice":false},"axis":null}}},
{"data":{"values":[{}]},"mark":{"type":"rule","strokeWidth":3,"color":"#00ff00"},"encoding":{"x":{"datum":0.1187,"type":"quantitative","scale":{"type":"log","domain":[0.005,0.5],"nice":false},"axis":null},"x2":{"datum":0.203},"y":{"datum":4730,"type":"quantitative","scale":{"type":"log","domain":[1,100000],"nice":false},"axis":null}}},
{"data":{"values":[{}]},"mark":{"type":"text","text":"E","align":"left","baseline":"middle","dy":3,"fontSize":20,"fontWeight":"bold","color":"#1a1a1a"},"encoding":{"x":{"datum":0.2125,"type":"quantitative","scale":{"type":"log","domain":[0.005,0.5],"nice":false},"axis":null},"y":{"datum":45700,"type":"quantitative","scale":{"type":"log","domain":[1,100000],"nice":false},"axis":null}}},
{"data":{"values":[{}]},"mark":{"type":"text","text":"E","align":"left","baseline":"middle","dy":3,"fontSize":20,"fontWeight":"bold","color":"#1a1a1a"},"encoding":{"x":{"datum":0.2125,"type":"quantitative","scale":{"type":"log","domain":[0.005,0.5],"nice":false},"axis":null},"y":{"datum":23500,"type":"quantitative","scale":{"type":"log","domain":[1,100000],"nice":false},"axis":null}}},
{"data":{"values":[{}]},"mark":{"type":"text","text":"E","align":"left","baseline":"middle","dy":0,"fontSize":20,"fontWeight":"bold","color":"#1a1a1a"},"encoding":{"x":{"datum":0.2125,"type":"quantitative","scale":{"type":"log","domain":[0.005,0.5],"nice":false},"axis":null},"y":{"datum":11080,"type":"quantitative","scale":{"type":"log","domain":[1,100000],"nice":false},"axis":null}}},
{"data":{"values":[{}]},"mark":{"type":"text","text":"E","align":"left","baseline":"middle","dy":0,"fontSize":20,"fontWeight":"bold","color":"#1a1a1a"},"encoding":{"x":{"datum":0.2125,"type":"quantitative","scale":{"type":"log","domain":[0.005,0.5],"nice":false},"axis":null},"y":{"datum":4730,"type":"quantitative","scale":{"type":"log","domain":[1,100000],"nice":false},"axis":null}}},
{"data":{"values":[{}]},"mark":{"type":"text","text":"w","align":"left","baseline":"middle","dx":12.5,"dy":-5,"fontSize":15,"fontWeight":"bold","color":"#1a1a1a"},"encoding":{"x":{"datum":0.2125,"type":"quantitative","scale":{"type":"log","domain":[0.005,0.5],"nice":false},"axis":null},"y":{"datum":45700,"type":"quantitative","scale":{"type":"log","domain":[1,100000],"nice":false},"axis":null}}},
{"data":{"values":[{}]},"mark":{"type":"text","text":"g","align":"left","baseline":"middle","dx":12.5,"dy":-6,"fontSize":15,"fontWeight":"bold","color":"#1a1a1a"},"encoding":{"x":{"datum":0.2125,"type":"quantitative","scale":{"type":"log","domain":[0.005,0.5],"nice":false},"axis":null},"y":{"datum":23500,"type":"quantitative","scale":{"type":"log","domain":[1,100000],"nice":false},"axis":null}}},
{"data":{"values":[{}]},"mark":{"type":"text","text":"w","align":"left","baseline":"middle","dx":12.5,"dy":-8,"fontSize":15,"fontWeight":"bold","color":"#1a1a1a"},"encoding":{"x":{"datum":0.2125,"type":"quantitative","scale":{"type":"log","domain":[0.005,0.5],"nice":false},"axis":null},"y":{"datum":11080,"type":"quantitative","scale":{"type":"log","domain":[1,100000],"nice":false},"axis":null}}},
{"data":{"values":[{}]},"mark":{"type":"text","text":"g","align":"left","baseline":"middle","dx":12.5,"dy":-9,"fontSize":15,"fontWeight":"bold","color":"#1a1a1a"},"encoding":{"x":{"datum":0.2125,"type":"quantitative","scale":{"type":"log","domain":[0.005,0.5],"nice":false},"axis":null},"y":{"datum":4730,"type":"quantitative","scale":{"type":"log","domain":[1,100000],"nice":false},"axis":null}}},
{"data":{"values":[{}]},"mark":{"type":"text","text":"obs","align":"left","baseline":"middle","dx":12.5,"dy":10,"fontSize":16,"fontWeight":"bold","color":"#1a1a1a"},"encoding":{"x":{"datum":0.2125,"type":"quantitative","scale":{"type":"log","domain":[0.005,0.5],"nice":false},"axis":null},"y":{"datum":11080,"type":"quantitative","scale":{"type":"log","domain":[1,100000],"nice":false},"axis":null}}},
{"data":{"values":[{}]},"mark":{"type":"text","text":"obs","align":"left","baseline":"middle","dx":12.5,"dy":10,"fontSize":16,"fontWeight":"bold","color":"#1a1a1a"},"encoding":{"x":{"datum":0.2125,"type":"quantitative","scale":{"type":"log","domain":[0.005,0.5],"nice":false},"axis":null},"y":{"datum":4730,"type":"quantitative","scale":{"type":"log","domain":[1,100000],"nice":false},"axis":null}}},
{"data":{"values":[{}]},"mark":{"type":"text","text":"(c)","align":"left","baseline":"alphabetic","font":"Liberation Serif","fontSize":34,"color":"#000000"},"encoding":{"x":{"datum":0.00505,"type":"quantitative","scale":{"type":"log","domain":[0.005,0.5],"nice":false},"axis":null},"y":{"datum":51000,"type":"quantitative","scale":{"type":"log","domain":[1,100000],"nice":false},"axis":null}}}
]
}
]
}
